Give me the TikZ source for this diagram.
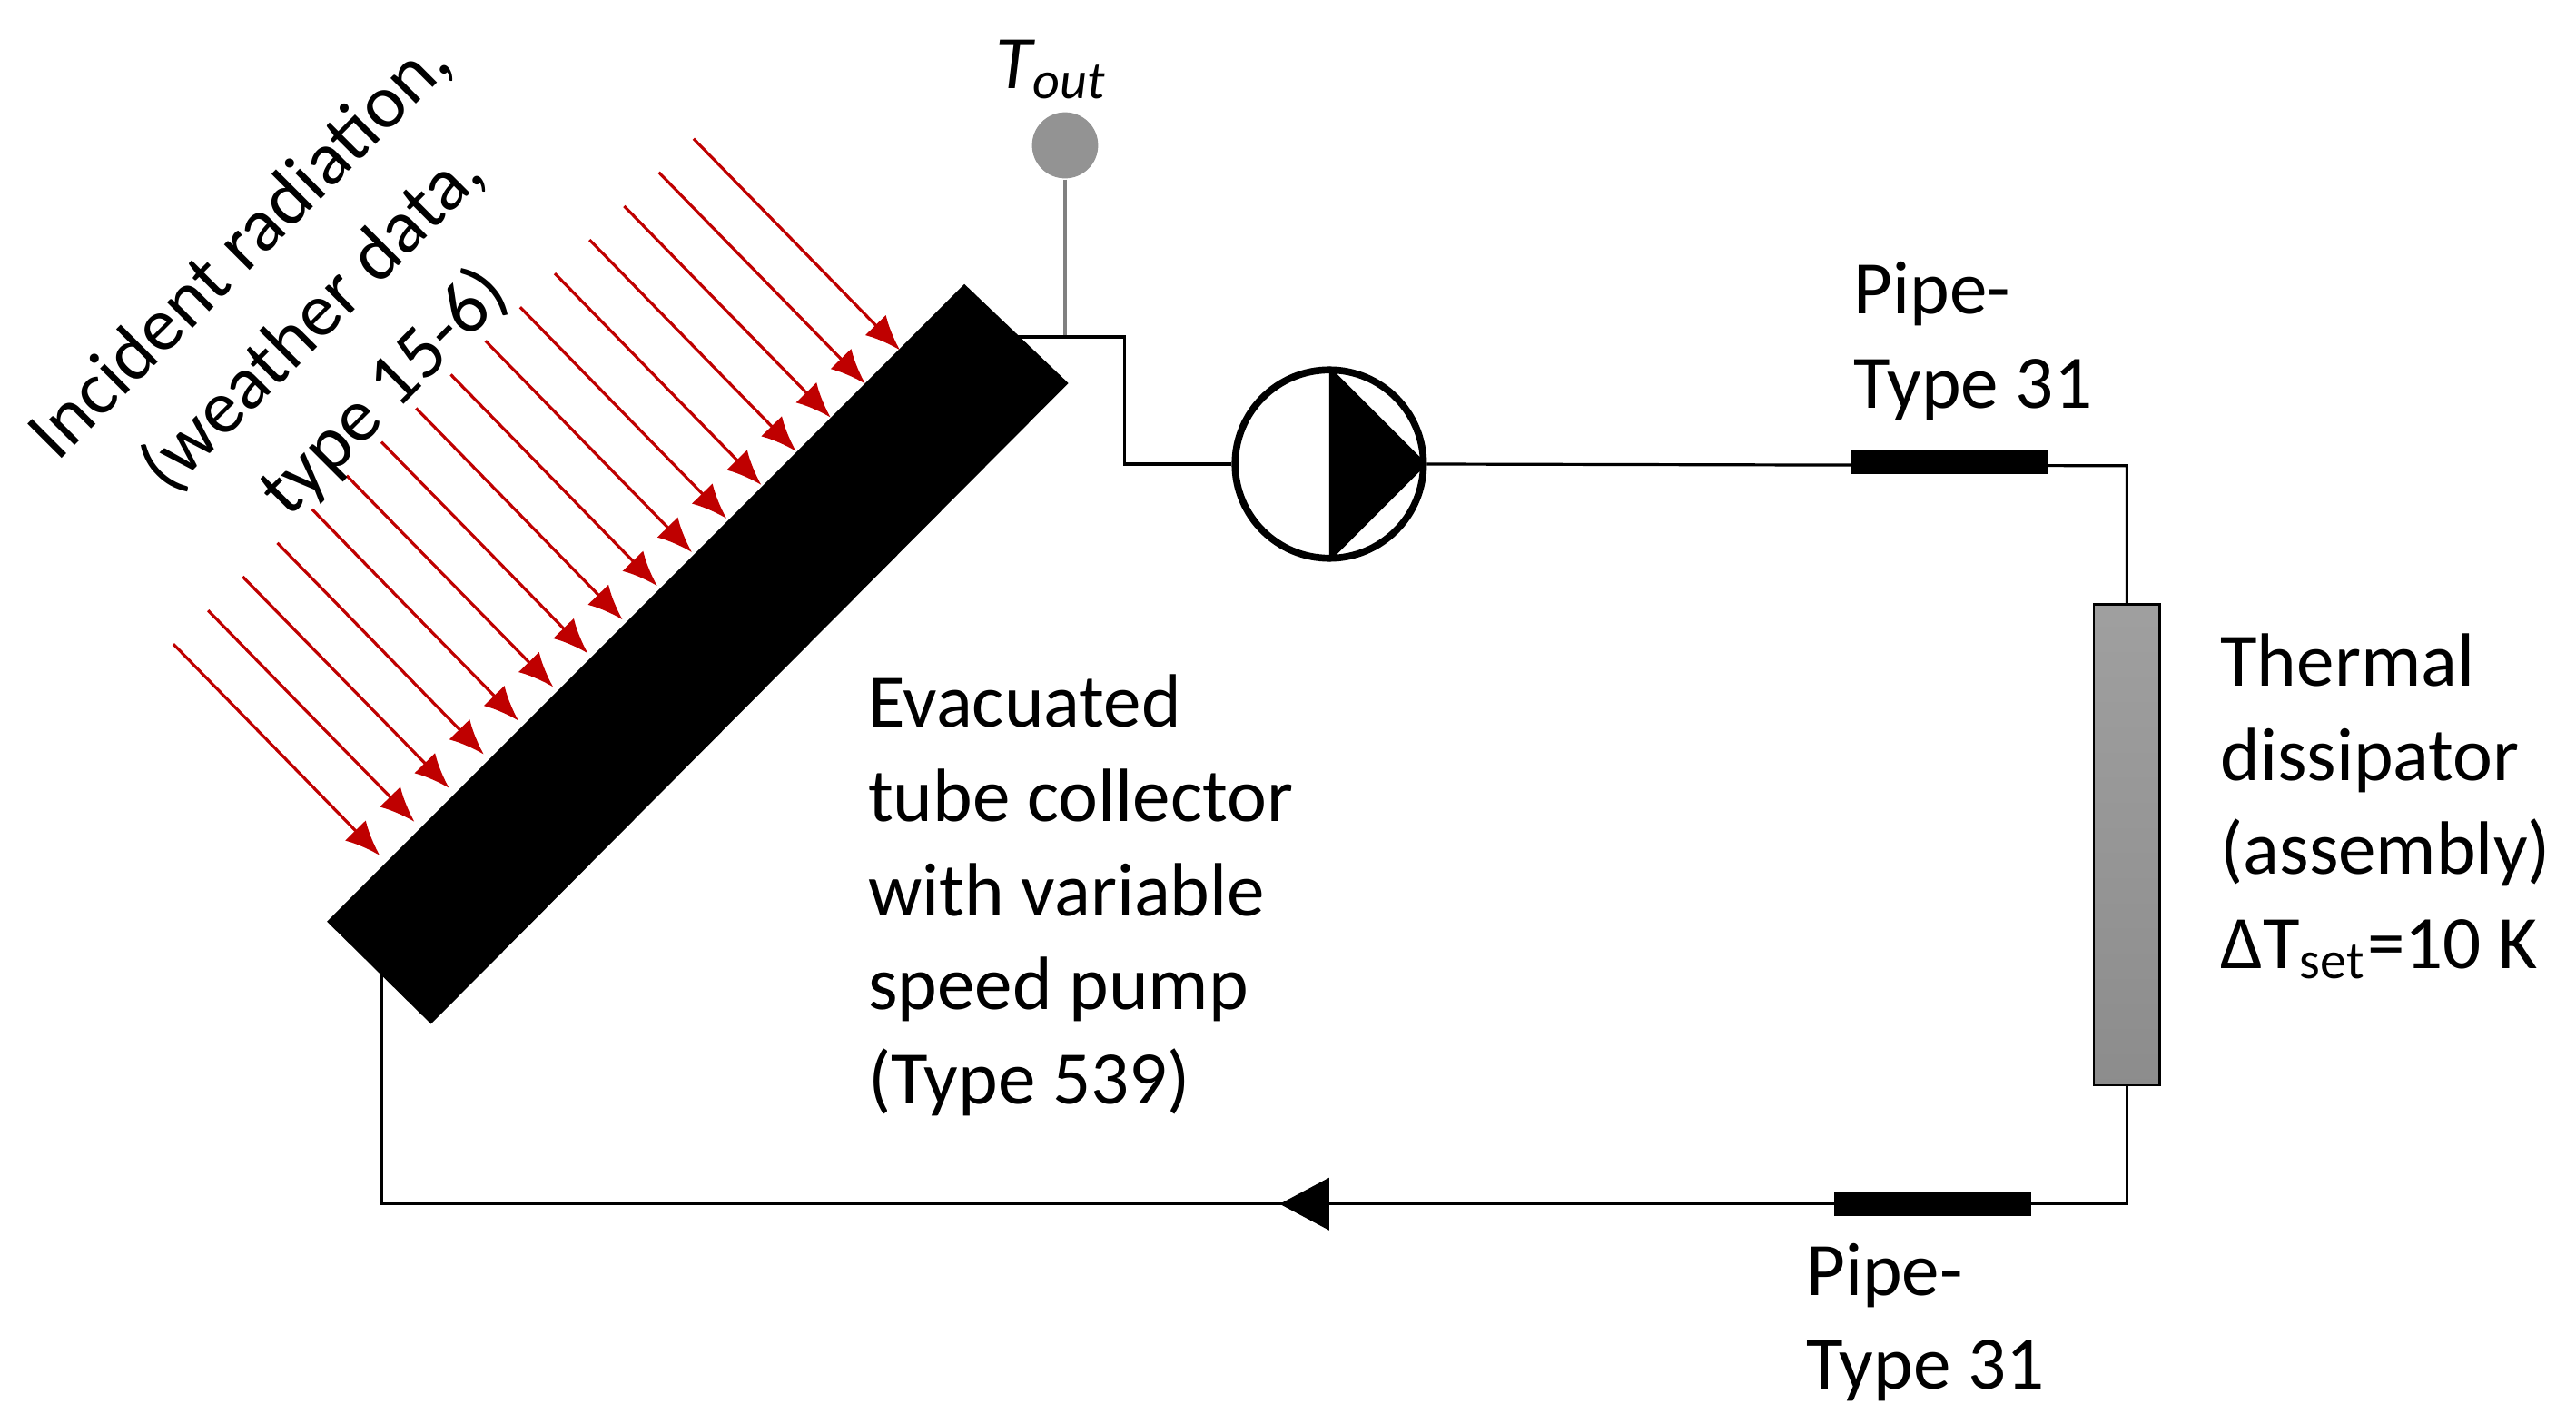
\documentclass[tikz,border=0pt]{standalone}
\usepackage{fontspec}
\setmainfont{Carlito}
\usetikzlibrary{arrows.meta}
\begin{document}
\begin{tikzpicture}[x=0.01cm,y=-0.01cm,
  lbl/.style={font=\fontsize{13}{16.2}\selectfont,align=left,inner sep=0},
  wire/.style={line width=0.5pt},
  ray/.style={draw=red!75!black,line width=0.5pt,-{Latex[length=6pt,width=5pt]}},
  pipe/.style={line width=4pt}]
\useasboundingbox (0,0) rectangle (1560,862);
% collector
\fill (198,558) -- (261,620) -- (647,232) -- (584,172) -- cycle;
\coordinate (ctop) at (615,204);
\coordinate (cbot) at (231,590);
% rays
\foreach \i in {0,...,15}{
  \coordinate (re\i) at ({230+\i*21},{518-\i*20.4});
  \coordinate (rs\i) at ({105+\i*21},{390-\i*20.4});
  \draw[ray] (rs\i) -- (re\i);
}
\node[lbl,align=center,rotate=45,font=\fontsize{13}{17.5}\selectfont] (inc) at (190,195) {Incident radiation,\\(weather data,\\type 15-6)};
% sensor
\node[circle,fill=gray!85,inner sep=0,minimum size=0.4cm] (sens) at (645,88) {};
\node[font=\fontsize{13}{16}\selectfont\itshape] (tout) at (637,42) {T\textsubscript{out}};
\coordinate (sj) at (645,204);
\draw[gray,wire] (sens) -- (sj);
% pump
\node[circle,draw,line width=1.2pt,minimum size=1.14cm,inner sep=0] (pump) at (805,281) {};
\fill (pump.north) -- (pump.east) -- (pump.south) -- cycle;
\draw[wire] (ctop) -- (681,204) -- (681,281) -- (pump.west);
% dissipator
\shade[top color=gray!75,bottom color=gray!110!black] (1268,366) rectangle (1308,657);
\node[draw,minimum width=0.4cm,minimum height=2.91cm,inner sep=0] (diss) at (1288,511.5) {};
\draw[wire] (pump.east) -- (1288,282) -- (diss.north);
\draw[wire] (diss.south) -- (1288,729) -- (231,729) -- (cbot);
\draw[pipe] (1121,280) -- (1240,280);
\draw[pipe] (1111,729) -- (1230,729);
\fill (775,729) -- (805,713) -- (805,745) -- cycle;
% labels
\node[lbl,anchor=north west] (p1) at (1122,158) {Pipe-\\Type 31};
\node[lbl,anchor=north west] (p2) at (1093,752) {Pipe-\\Type 31};
\node[lbl,anchor=north west] (th) at (1344,383) {Thermal\\dissipator\\(assembly)\\ΔT\textsubscript{set}=10 K};
\node[lbl,anchor=north west] (ev) at (525,408) {Evacuated\\tube collector\\with variable\\speed pump\\(Type 539)};
\end{tikzpicture}
\end{document}
